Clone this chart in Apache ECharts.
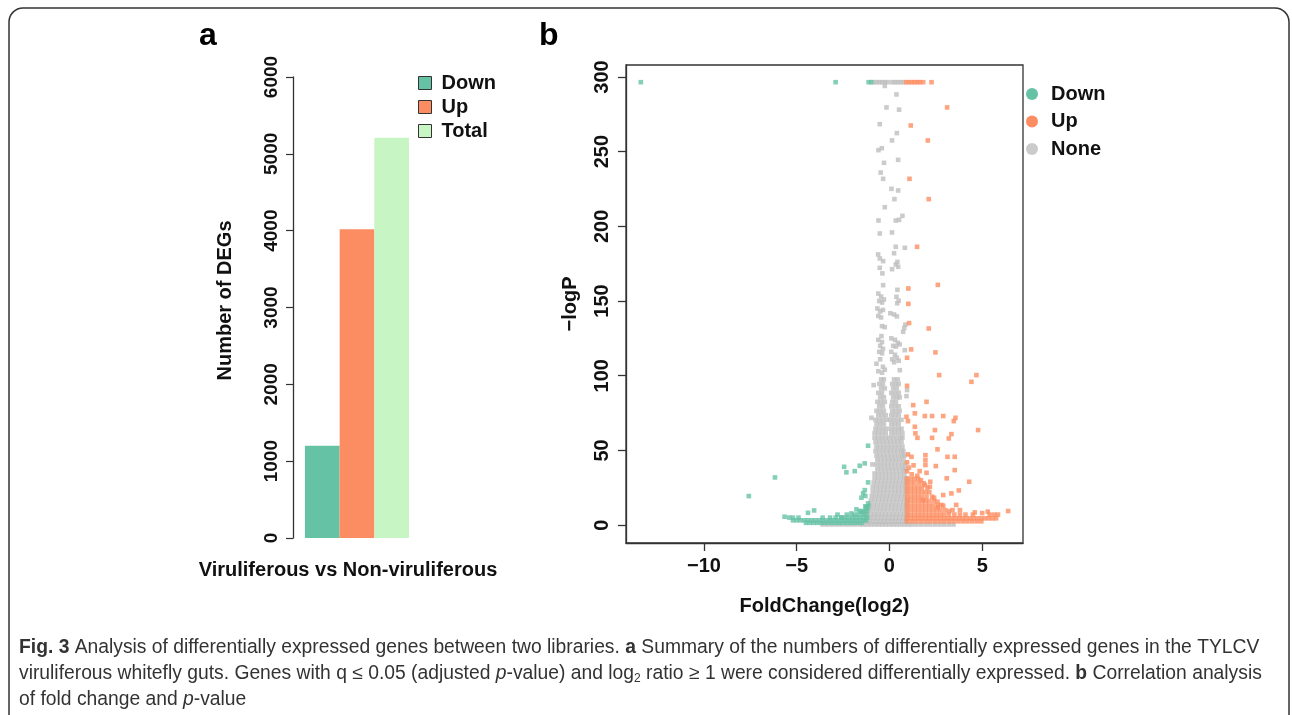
<!DOCTYPE html>
<html>
<head>
<meta charset="utf-8">
<script src="https://cdn.jsdelivr.net/npm/echarts@6/dist/echarts.min.js"></script>
<style>
  html, body { margin: 0; padding: 0; background: #fff; }
  #main { width: 1292px; height: 715px; }
</style>
</head>
<body>
<div id="main"></div>
<script>
// ---- panel a: DEG counts ----
const barCategories = ['Viruliferous vs Non-viruliferous'];
const barDown = [1200];
const barUp = [4020];
const barTotal = [5210];

// ---- panel b: volcano plot ----
const foldTicks = [-10, -5, 0, 5];
const logPTicks = [0, 50, 100, 150, 200, 250, 300];

// single points [foldChange, -logP]
const nonePoints = [
  [-0.85, 296.5], [-0.7, 296.5], [-0.55, 296.5], [-0.4, 296.5], [-0.25, 296.5], [-0.1, 296.5],
  [0.15, 296.5], [0.3, 296.5], [0.45, 296.5], [0.6, 296.5], [0.75, 296.5],
  [-0.25, 294], [0.38, 288.3], [-0.16, 279.6], [0.52, 278.1], [-0.52, 268.4], [0.4, 262.4],
  [0.14, 257.5], [-0.59, 251], [-0.41, 252.3], [-0.29, 242.5], [0.47, 244.5], [-0.47, 236],
  [-0.34, 231.8], [0.11, 225.1], [0.47, 224], [0.27, 218.2], [-0.25, 212.8], [0.7, 207],
  [-0.59, 203.9], [0.34, 203.9], [0.52, 204.3],
  [-0.52, 195.2], [0.14, 195.9], [0.34, 186.3], [0.83, 185.6], [0.25, 182], [-0.61, 181.2],
  [-0.52, 178.5], [-0.34, 176.7], [0.43, 176.2], [0.34, 174.5], [-0.52, 172.2], [0.14, 171.3],
  [0.47, 172.9], [-0.38, 168.5], [-0.34, 160.6], [0.43, 157.5],
  [-0.6, 155], [-0.45, 153], [-0.55, 150], [-0.4, 149], [-0.3, 151], [0.38, 152.8], [0.5, 150.2], [0.42, 148.5],
  [-0.65, 145], [-0.5, 143], [-0.35, 144], [-0.6, 140], [-0.45, 139], [0.05, 141.8], [0.25, 141], [0.4, 139.7],
  [0.86, 134.2], [0.8, 132], [-0.4, 133.2], [-0.25, 132.5], [0.74, 129.4], [-0.43, 126.5],
  [-0.6, 124], [-0.4, 122.5], [-0.5, 120], [-0.35, 118], [-0.55, 116], [-0.4, 115],
  [0.1, 125], [0.3, 124], [0.45, 122], [0.2, 120], [0.35, 119.5], [0.55, 121], [0.83, 117.1],
  [0.1, 116], [0.3, 114], [0.15, 111], [0.4, 112], [0.5, 110], [0.25, 109],
  [-0.7, 108], [-0.5, 111], [-0.35, 106], [-0.6, 103], [-0.4, 102], [-0.25, 104], [0.56, 103.7],
  [-0.85, 93.7], [-0.97, 71.8], [0.92, 86.3], [0.95, 90.4], [-0.92, 40.6]
];
// dense rows [-logP, [foldChange...]]
const noneRows = [
  [0.4, [-3.6, -3.35, -3.1, -2.85, -2.6, -2.35, -2.1, -1.85, -1.6, -1.4, -1.2, -1.0, -0.8, -0.6, -0.4, -0.2, 0, 0.2, 0.4, 0.6, 0.8, 1.0, 1.2, 1.45, 1.7, 1.95, 2.2, 2.45, 2.7, 2.95, 3.2, 3.45]],
  [2.4, [-1.3, -1.1, -0.9, -0.7, -0.5, -0.3, -0.1, 0.1, 0.3, 0.5, 0.7, 0.9]],
  [4.8, [-1.25, -1.05, -0.85, -0.65, -0.45, -0.25, -0.05, 0.15, 0.35, 0.55, 0.75, 0.92]],
  [7.5, [-1.2, -1.0, -0.8, -0.6, -0.4, -0.2, 0, 0.2, 0.4, 0.6, 0.8, 0.95]],
  [10.5, [-1.1, -0.9, -0.7, -0.5, -0.3, -0.1, 0.1, 0.3, 0.5, 0.7, 0.9]],
  [13.5, [-1.05, -0.85, -0.65, -0.45, -0.25, -0.05, 0.15, 0.35, 0.55, 0.75, 0.92]],
  [16.5, [-1.0, -0.8, -0.6, -0.4, -0.2, 0, 0.2, 0.4, 0.6, 0.8, 0.95]],
  [19.5, [-0.95, -0.75, -0.55, -0.35, -0.15, 0.05, 0.25, 0.45, 0.65, 0.85]],
  [22.5, [-0.9, -0.7, -0.5, -0.3, -0.1, 0.1, 0.3, 0.5, 0.7, 0.9]],
  [25.5, [-0.9, -0.7, -0.5, -0.3, -0.1, 0.1, 0.3, 0.5, 0.7, 0.88]],
  [28.5, [-0.85, -0.65, -0.45, -0.25, -0.05, 0.15, 0.35, 0.55, 0.75, 0.9]],
  [31.5, [-0.8, -0.6, -0.4, -0.2, 0, 0.2, 0.4, 0.6, 0.8, 0.9]],
  [34.5, [-0.8, -0.6, -0.4, -0.2, 0, 0.2, 0.4, 0.6, 0.8]],
  [37.5, [-0.65, -0.45, -0.25, -0.05, 0.15, 0.35, 0.55, 0.75, 0.85]],
  [40.5, [-0.7, -0.5, -0.3, -0.1, 0.1, 0.3, 0.5, 0.7, 0.85]],
  [43.5, [-0.65, -0.45, -0.25, -0.05, 0.15, 0.35, 0.55, 0.75]],
  [46.5, [-0.7, -0.5, -0.3, -0.1, 0.1, 0.3, 0.5, 0.7, 0.8]],
  [49.5, [-0.75, -0.55, -0.35, -0.15, 0.05, 0.25, 0.45, 0.65, 0.75]],
  [52.5, [-0.7, -0.5, -0.3, -0.1, 0.1, 0.3, 0.5, 0.7]],
  [55.5, [-0.75, -0.55, -0.35, -0.15, 0.05, 0.25, 0.45, 0.65]],
  [58.5, [-0.8, -0.6, -0.4, -0.2, 0, 0.2, 0.4, 0.6, 0.7]],
  [61.5, [-0.8, -0.6, -0.4, -0.2, 0.1, 0.3, 0.5, 0.7]],
  [64.5, [-0.75, -0.55, -0.35, -0.15, 0.1, 0.3, 0.5, 0.65]],
  [67.5, [-0.7, -0.5, -0.3, 0.1, 0.3, 0.5]],
  [70.5, [-0.75, -0.55, -0.35, -0.15, 0.05, 0.25, 0.45, 0.65]],
  [73.5, [-0.6, -0.4, -0.2, 0.1, 0.3, 0.5]],
  [76.5, [-0.7, -0.5, -0.3, 0.15, 0.35, 0.55]],
  [79.5, [-0.55, -0.35, 0.1, 0.3, 0.5]],
  [82.5, [-0.65, -0.45, -0.25, 0.15, 0.35]],
  [85.5, [-0.5, -0.3, 0.2, 0.4, 0.55]],
  [88.5, [-0.6, -0.4, 0.1, 0.3, 0.5]],
  [91.5, [-0.45, -0.25, 0.2, 0.4]],
  [94.5, [-0.55, -0.35, 0.15, 0.35, 0.5]],
  [97.5, [-0.45, -0.3, 0.25, 0.45]]
];

const downPoints = [
  [-13.4, 296.5], [-2.9, 296.5], [-1.12, 296.5], [-0.98, 296.5],
  [-7.58, 19.4], [-6.17, 31.9], [-5.65, 5.6], [-4.39, 8.2], [-4.06, 9.8],
  [-1.15, 53.1], [-1.33, 41.3], [-1.6, 39.7], [-1.87, 36.1], [-2.32, 35.3], [-2.44, 39],
  [-1.15, 28.6], [-1.33, 23.4], [-1.42, 21.2], [-1.51, 18.3], [-1.3, 19.5],
  [-2.59, 5.2], [-2.05, 7.8], [-1.78, 10.5], [-1.51, 8.9], [-1.24, 12.2], [-1.15, 14.5],
  [-1.24, 11.2], [-1.42, 8.5]
];
const downRows = [
  [1.5, [-4.5, -4.3, -4.1, -3.9, -3.7, -3.5, -3.3, -3.1, -2.9, -2.7, -2.5, -2.3, -2.1, -1.9, -1.7, -1.5]],
  [3.2, [-5.2, -5.0, -4.8, -4.6, -4.4, -4.2, -4.0, -3.8, -3.6, -3.4, -3.2, -3.0, -2.8, -2.6, -2.4, -2.2, -2.0, -1.8, -1.6, -1.4, -1.25]],
  [5, [-5.4, -5.2, -4.9, -3.6, -3.2, -2.9, -2.6, -2.4, -2.2, -2.0, -1.8, -1.6, -1.4, -1.2]],
  [7, [-2.8, -2.3, -1.9, -1.7, -1.45, -1.25]],
  [9.5, [-1.6, -1.35, -1.2]],
  [12.5, [-1.3, -1.15]]
];

const upPoints = [
  [0.9, 296.5], [1.05, 296.5], [1.2, 296.5], [1.35, 296.5], [1.5, 296.5], [1.63, 296.5], [1.82, 296.5], [2.27, 296.5],
  [3.11, 279.6], [1.15, 267.5], [2.07, 257.5], [1.08, 231.8], [2.12, 218.2], [1.49, 186.3], [2.61, 160.8],
  [1.02, 158.4], [1.02, 148.1], [1.06, 135.2], [2.12, 131.6], [1.17, 117.6], [2.48, 115.6], [0.95, 112],
  [2.68, 100.4], [4.69, 100.4], [4.42, 95.9], [0.95, 93.2], [2.0, 82.5], [1.28, 80.3], [1.37, 74.8],
  [0.92, 72.5], [1.0, 69.6], [1.91, 73], [2.3, 73], [2.9, 73], [3.56, 71.8], [3.47, 69.6], [1.37, 65.8],
  [2.45, 63.6], [2.3, 58.4], [1.4, 61.4], [1.51, 58.4], [3.34, 60.9], [3.2, 58], [4.78, 63.6], [2.59, 50.7],
  [1.0, 47.3], [1.19, 45.7], [1.94, 46.8], [1.94, 43.4], [1.94, 40.2], [3.13, 45.7], [3.52, 45.7], [2.5, 39.5],
  [3.52, 36.8], [2.0, 35], [1.63, 36.1], [3.09, 31.3], [4.3, 29], [3.74, 23.2], [3.34, 21.2], [2.9, 20.1],
  [2.18, 25.6], [1.91, 26.8], [1.82, 16.7], [2.41, 18.3], [2.59, 15.6], [3.22, 9.4], [6.4, 9.4],
  [0.95, 42], [1.05, 38.5], [1.2, 34], [0.95, 36], [1.3, 40], [1.5, 33], [1.7, 30], [2.2, 29],
  [2.6, 12], [2.8, 13.5], [3.6, 13.5], [4.6, 8.5], [5.0, 8], [5.3, 9]
];
const upRows = [
  [31, [0.95, 1.15, 1.35, 1.55]],
  [28, [0.95, 1.15, 1.35, 1.6, 1.85]],
  [25, [0.95, 1.15, 1.35, 1.55, 1.75, 2.05]],
  [22, [0.95, 1.15, 1.35, 1.55, 1.75, 1.95, 2.15]],
  [19, [0.95, 1.15, 1.35, 1.55, 1.75, 2.0, 2.3]],
  [16, [0.95, 1.15, 1.35, 1.55, 1.75, 1.95, 2.15, 2.4]],
  [13, [0.95, 1.15, 1.35, 1.55, 1.75, 1.95, 2.15, 2.35, 2.6, 2.9]],
  [10, [0.95, 1.15, 1.35, 1.55, 1.75, 1.95, 2.15, 2.35, 2.55, 2.75, 3.0, 3.4, 3.8]],
  [7, [0.95, 1.15, 1.35, 1.55, 1.75, 1.95, 2.15, 2.35, 2.55, 2.75, 2.95, 3.2, 3.5, 3.8, 4.1, 4.5, 5.4, 5.65, 5.85]],
  [4.5, [0.95, 1.15, 1.35, 1.55, 1.75, 1.95, 2.15, 2.35, 2.55, 2.75, 2.95, 3.15, 3.35, 3.55, 3.75, 3.95, 4.15, 4.35, 4.55, 4.75, 4.95, 5.15, 5.35, 5.55, 5.75]],
  [2.5, [0.95, 1.2, 1.45, 1.7, 1.95, 2.2, 2.45, 2.7, 2.95, 3.2, 3.45, 3.7, 3.95, 4.2, 4.45, 4.7, 4.95]]
];

const colorDown = '#66C2A5';
const colorUp = '#FC8D62';
const colorTotal = '#C7F5C4';
const colorNone = '#BEBEBE';
const FONT = "'Liberation Sans', Arial, sans-serif";

// rows -> [x, y] list
function fromRows(rows) {
  return rows.flatMap(([y, xs]) => xs.map(x => [x, y]));
}
function minus(v) {
  return v < 0 ? '\u2212' + (-v) : String(v);
}

const chart = echarts.init(document.getElementById('main'));

const boldText = { fontFamily: FONT, fontWeight: 'bold', color: '#111' };
const capBase = { fontFamily: FONT, fontSize: 19.3, fill: '#333' };

chart.setOption({
  animation: false,
  backgroundColor: '#fff',
  grid: [
    { left: 293, top: 77, width: 128, height: 461 },
    { left: 626, top: 65, width: 397, height: 478, show: true, borderColor: '#333', borderWidth: 1.3 }
  ],
  legend: [
    {
      left: 413, top: 68, orient: 'vertical', selectedMode: false,
      itemWidth: 13, itemHeight: 13, itemGap: 4,
      textStyle: Object.assign({ fontSize: 20, padding: [0, 0, 0, 5] }, boldText),
      data: [
        { name: 'Down', icon: 'rect', itemStyle: { color: colorDown, borderColor: '#333', borderWidth: 1 } },
        { name: 'Up', icon: 'rect', itemStyle: { color: colorUp, borderColor: '#333', borderWidth: 1 } },
        { name: 'Total', icon: 'rect', itemStyle: { color: colorTotal, borderColor: '#333', borderWidth: 1 } }
      ]
    },
    {
      left: 1021, top: 79, orient: 'vertical', selectedMode: false,
      itemWidth: 12, itemHeight: 12, itemGap: 7.5,
      textStyle: Object.assign({ fontSize: 20, padding: [0, 0, 0, 8] }, boldText),
      data: [
        { name: 'Down', icon: 'circle', itemStyle: { color: colorDown, borderWidth: 0 } },
        { name: 'Up', icon: 'circle', itemStyle: { color: colorUp, borderWidth: 0 } },
        { name: 'None', icon: 'circle', itemStyle: { color: colorNone, borderWidth: 0 } }
      ]
    }
  ],
  xAxis: [
    {
      gridIndex: 0, type: 'category', data: barCategories,
      axisLine: { show: false }, axisTick: { show: false }, axisLabel: { show: false },
      name: barCategories[0], nameLocation: 'middle', nameGap: 22,
      nameTextStyle: Object.assign({ fontSize: 20, padding: [0, 18, 0, 0] }, boldText)
    },
    {
      gridIndex: 1, type: 'value', position: 'bottom', min: -14.2, max: 7.2,
      splitLine: { show: false },
      axisLine: { show: true, onZero: false, lineStyle: { color: '#333', width: 1.3 } },
      axisTick: { show: true, length: 8, customValues: foldTicks, lineStyle: { color: '#333', width: 1.3 } },
      axisLabel: Object.assign({ customValues: foldTicks, formatter: minus, margin: 13, fontSize: 20 }, boldText),
      name: 'FoldChange(log2)', nameLocation: 'middle', nameGap: 53,
      nameTextStyle: Object.assign({ fontSize: 20 }, boldText)
    }
  ],
  yAxis: [
    {
      gridIndex: 0, type: 'value', min: 0, max: 6000, interval: 1000,
      splitLine: { show: false },
      axisLine: { show: true, lineStyle: { color: '#333', width: 1.3 } },
      axisTick: { show: true, length: 7, lineStyle: { color: '#333', width: 1.2 } },
      axisLabel: Object.assign({ rotate: 90, margin: 12, fontSize: 19, formatter: v => String(v) }, boldText),
      name: 'Number of DEGs', nameLocation: 'middle', nameRotate: 90, nameGap: 58,
      nameTextStyle: Object.assign({ fontSize: 20, padding: [0, 0, 0, 14] }, boldText)
    },
    {
      gridIndex: 1, type: 'value', position: 'left', min: -12, max: 308,
      splitLine: { show: false },
      axisLine: { show: true, onZero: false, lineStyle: { color: '#333', width: 1.3 } },
      axisTick: { show: true, length: 8, customValues: logPTicks, lineStyle: { color: '#333', width: 1.3 } },
      axisLabel: Object.assign({ customValues: logPTicks, rotate: 90, margin: 14, fontSize: 20 }, boldText),
      name: '\u2212logP', nameLocation: 'middle', nameRotate: 90, nameGap: 46,
      nameTextStyle: Object.assign({ fontSize: 20 }, boldText)
    }
  ],
  series: [
    { name: 'Down', type: 'bar', xAxisIndex: 0, yAxisIndex: 0, data: barDown, barWidth: 34.7, barGap: '0%', itemStyle: { color: colorDown } },
    { name: 'Up', type: 'bar', xAxisIndex: 0, yAxisIndex: 0, data: barUp, barWidth: 34.7, barGap: '0%', itemStyle: { color: colorUp } },
    { name: 'Total', type: 'bar', xAxisIndex: 0, yAxisIndex: 0, data: barTotal, barWidth: 34.7, barGap: '0%', itemStyle: { color: colorTotal } },
    {
      name: 'None', type: 'scatter', xAxisIndex: 1, yAxisIndex: 1, symbol: 'rect', symbolSize: 4.6,
      itemStyle: { color: colorNone }, data: fromRows(noneRows).concat(nonePoints)
    },
    {
      name: 'Down', type: 'scatter', xAxisIndex: 1, yAxisIndex: 1, symbol: 'rect', symbolSize: 4.6,
      itemStyle: { color: colorDown }, data: fromRows(downRows).concat(downPoints)
    },
    {
      name: 'Up', type: 'scatter', xAxisIndex: 1, yAxisIndex: 1, symbol: 'rect', symbolSize: 4.6,
      itemStyle: { color: colorUp }, data: fromRows(upRows).concat(upPoints)
    }
  ],
  graphic: [
    // outer frame
    { type: 'rect', shape: { x: 9, y: 8, width: 1280, height: 800, r: 14 }, style: { fill: 'none', stroke: '#333', lineWidth: 1.5 }, silent: true },
    // panel letters
    { type: 'text', x: 199, y: 36, style: { text: 'a', fontFamily: FONT, fontWeight: 'bold', fontSize: 32, fill: '#000', verticalAlign: 'middle' } },
    { type: 'text', x: 539, y: 36, style: { text: 'b', fontFamily: FONT, fontWeight: 'bold', fontSize: 32, fill: '#000', verticalAlign: 'middle' } },
    // caption
    {
      type: 'text', x: 19, y: 648,
      style: Object.assign({
        text: '{b|Fig. 3} Analysis of differentially expressed genes between two libraries. {b|a} Summary of the numbers of differentially expressed genes in the TYLCV',
        verticalAlign: 'middle',
        rich: { b: Object.assign({ fontWeight: 'bold' }, capBase) }
      }, capBase)
    },
    {
      type: 'text', x: 19, y: 674,
      style: Object.assign({
        text: 'viruliferous whitefly guts. Genes with q \u2264 0.05 (adjusted {i|p}-value) and log{s|2} ratio \u2265 1 were considered differentially expressed. {b|b} Correlation analysis',
        verticalAlign: 'middle',
        rich: {
          b: Object.assign({ fontWeight: 'bold' }, capBase),
          i: Object.assign({ fontStyle: 'italic' }, capBase),
          s: { fontFamily: FONT, fontSize: 12, fill: '#333', padding: [9, 0, 0, 0] }
        }
      }, capBase)
    },
    {
      type: 'text', x: 19, y: 700,
      style: Object.assign({
        text: 'of fold change and {i|p}-value',
        verticalAlign: 'middle',
        rich: { i: Object.assign({ fontStyle: 'italic' }, capBase) }
      }, capBase)
    }
  ]
});
</script>
</body>
</html>
